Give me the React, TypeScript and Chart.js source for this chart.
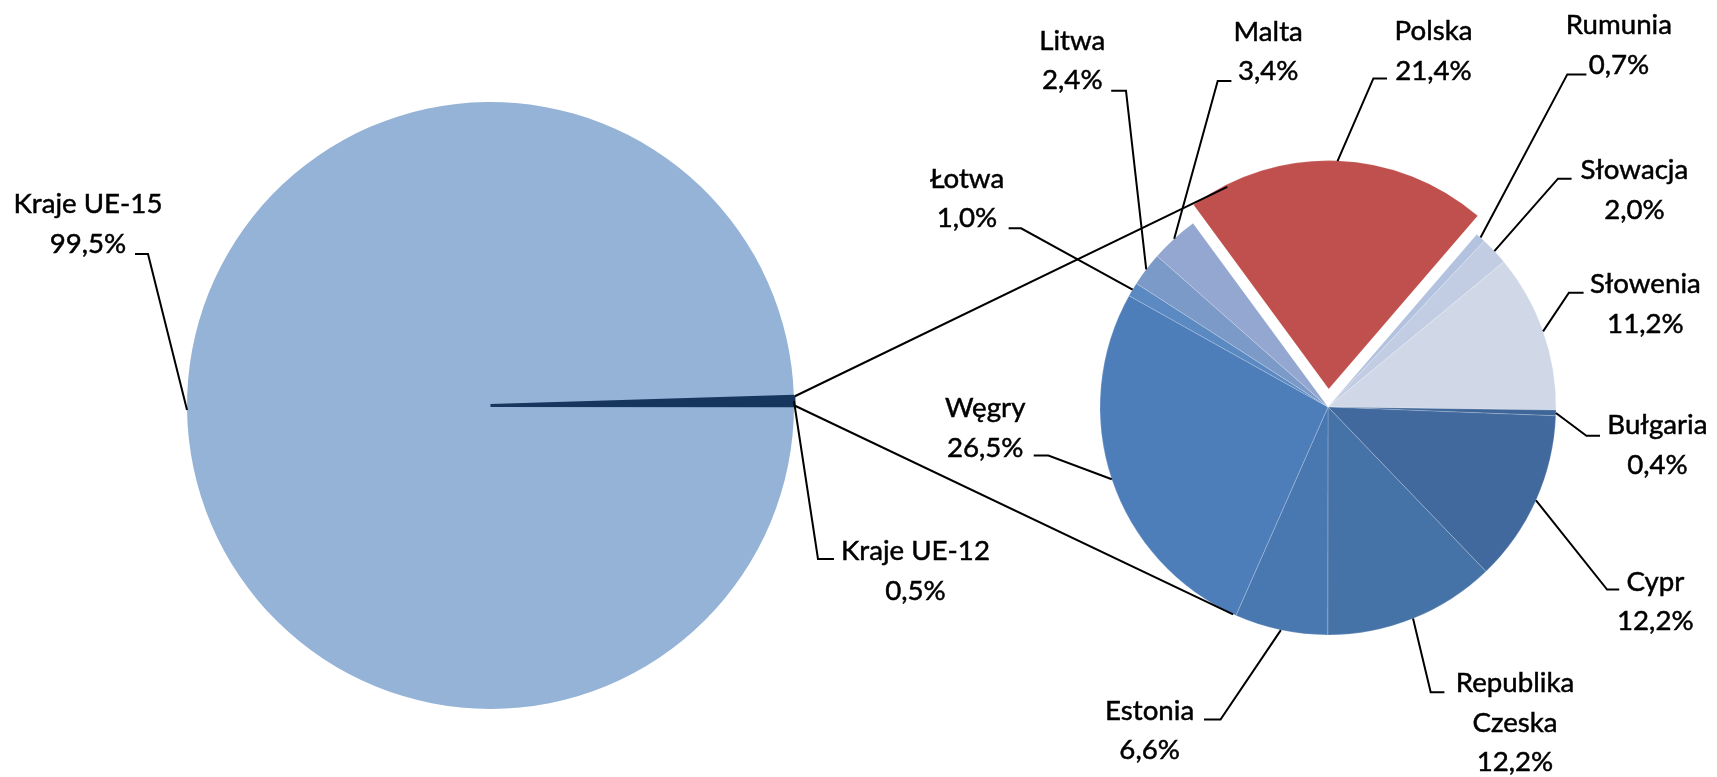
import React, { useEffect, useRef } from "react";
import { Chart, registerables } from "chart.js";

Chart.register(...registerables);

const W = 1717;
const H = 777;

// ---------- data ----------
const mainLabels = ["Kraje UE-15", "Kraje UE-12"];
const mainValues = [99.5, 0.5];
const mainColors = ["#95B3D7", "#17365D"];

const euLabels = [
  "Polska",
  "Rumunia",
  "Słowacja",
  "Słowenia",
  "Bułgaria",
  "Cypr",
  "Republika Czeska",
  "Estonia",
  "Węgry",
  "Łotwa",
  "Litwa",
  "Malta",
];
const euValues = [21.4, 0.7, 2.0, 11.2, 0.4, 12.2, 12.2, 6.6, 26.5, 1.0, 2.4, 3.4];
const euColors = [
  "#C0504D",
  "#B3C3DF",
  "#C2CDE3",
  "#D0D8E8",
  "#3F6699",
  "#41699E",
  "#4572A7",
  "#4977B0",
  "#4E7EBA",
  "#5B89C2",
  "#7C9AC8",
  "#93A7D0",
];

// ---------- layout ----------
const LEFT = { x: 490.5, y: 405.5, r: 303.5, rotation: 90.05 };
const RIGHT = { x: 1328, y: 407, r: 228, rotation: -36.3 };
const EXPLODE_PX = 18; // Polska pulled out
const LINE_H = 39.5;
const FONT_FAMILY = "Lato, 'Open Sans', sans-serif";
const CONNECTOR_ANGLE = 24.6; // deg from vertical on the secondary pie
const CONNECTOR_UPPER_EXTRA = 14;

type LabelPos = { cx: number; y: number; tick: number[]; wrap?: boolean };

const mainLabelPos: LabelPos[] = [
  { cx: 88, y: 213, tick: [135, 254, 148, 254] },
  { cx: 915.5, y: 560, tick: [834, 559, 818, 559] },
];

const euLabelPos: LabelPos[] = [
  { cx: 1433.5, y: 40, tick: [1387, 78.4, 1373.4, 78.4] }, // Polska
  { cx: 1618.9, y: 34, tick: [1586.4, 74.4, 1567.3, 74.4] }, // Rumunia
  { cx: 1634.4, y: 179, tick: [1571.6, 178.7, 1558, 178.7] }, // Słowacja
  { cx: 1645.4, y: 293, tick: [1583.6, 292.8, 1568.9, 292.8] }, // Słowenia
  { cx: 1657.4, y: 434, tick: [1600, 435.7, 1586.4, 435.7] }, // Bułgaria
  { cx: 1655.3, y: 590.6, tick: [1619.2, 589.6, 1607.1, 589.6] }, // Cypr
  { cx: 1515, y: 692.3, tick: [1444.4, 692.3, 1430.7, 692.3], wrap: true }, // Republika Czeska
  { cx: 1149.6, y: 719.6, tick: [1204, 719.6, 1220.5, 719.6] }, // Estonia
  { cx: 985.2, y: 417, tick: [1033.7, 455.6, 1048.4, 455.6] }, // Węgry
  { cx: 967, y: 187.6, tick: [1008.6, 228.3, 1021.1, 228.3] }, // Łotwa
  { cx: 1072.3, y: 49.6, tick: [1111.2, 90.8, 1126, 90.8] }, // Litwa
  { cx: 1268.2, y: 40.7, tick: [1231.4, 80.9, 1217.7, 80.9] }, // Malta
];

const fmt = (v: number) => `${v.toFixed(1).replace(".", ",")}%`;

let cachedFontSize = 0;
function fontSize(ctx: CanvasRenderingContext2D) {
  if (cachedFontSize) return cachedFontSize;
  ctx.save();
  ctx.font = `100px ${FONT_FAMILY}`;
  const w = ctx.measureText("Kraje UE-15").width;
  ctx.restore();
  cachedFontSize = (100 * 149) / w;
  return cachedFontSize;
}

function arcGeom(arc: any) {
  return arc.getProps(["x", "y", "startAngle", "endAngle", "outerRadius"], true);
}

function makeLabelPlugin(labels: string[], values: number[], pos: LabelPos[]) {
  return {
    id: "pieLabels",
    afterDraw(chart: any) {
      const ctx: CanvasRenderingContext2D = chart.ctx;
      const meta = chart.getDatasetMeta(0);
      ctx.save();
      const fs = fontSize(ctx);
      ctx.font = `${fs}px ${FONT_FAMILY}`;
      ctx.fillStyle = "#000";
      ctx.textAlign = "center";
      ctx.textBaseline = "alphabetic";
      ctx.strokeStyle = "#000";
      ctx.lineJoin = "miter";
      meta.data.forEach((arc: any, i: number) => {
        const g = arcGeom(arc);
        const mid = (g.startAngle + g.endAngle) / 2;
        const off = (arc.options.offset || 0) / 4;
        const ax = g.x + Math.cos(mid) * (g.outerRadius + off);
        const ay = g.y + Math.sin(mid) * (g.outerRadius + off);
        const p = pos[i];
        ctx.lineWidth = 2;
        ctx.beginPath();
        ctx.moveTo(p.tick[0], p.tick[1]);
        ctx.lineTo(p.tick[2], p.tick[3]);
        ctx.lineTo(ax, ay);
        ctx.stroke();
        const nameLines = p.wrap ? labels[i].split(" ") : [labels[i]];
        const lines = [...nameLines, fmt(values[i])];
        ctx.lineWidth = 0.5;
        lines.forEach((t, k) => {
          ctx.fillText(t, p.cx, p.y + k * LINE_H);
          ctx.strokeText(t, p.cx, p.y + k * LINE_H);
        });
      });
      ctx.restore();
    },
  };
}

function makeConnectorPlugin(getLeft: () => any) {
  return {
    id: "connectors",
    afterDraw(chart: any) {
      const left = getLeft();
      if (!left) return;
      const ctx: CanvasRenderingContext2D = chart.ctx;
      const la = arcGeom(left.getDatasetMeta(0).data[1]);
      const rArc = arcGeom(chart.getDatasetMeta(0).data[0]);
      const cx = rArc.x;
      const cy = rArc.y;
      const r = rArc.outerRadius;
      const a = (CONNECTOR_ANGLE * Math.PI) / 180;
      const upper = { x: cx - Math.sin(a) * (r + CONNECTOR_UPPER_EXTRA), y: cy - Math.cos(a) * (r + CONNECTOR_UPPER_EXTRA) };
      const lower = { x: cx - Math.sin(a) * r, y: cy + Math.cos(a) * r };
      const s1 = { x: la.x + Math.cos(la.startAngle) * la.outerRadius, y: la.y + Math.sin(la.startAngle) * la.outerRadius };
      const s2 = { x: la.x + Math.cos(la.endAngle) * la.outerRadius, y: la.y + Math.sin(la.endAngle) * la.outerRadius };
      ctx.save();
      ctx.strokeStyle = "#000";
      ctx.lineWidth = 2;
      ctx.beginPath();
      ctx.moveTo(s1.x + 1, s1.y);
      ctx.lineTo(upper.x, upper.y);
      ctx.moveTo(s2.x + 1, s2.y);
      ctx.lineTo(lower.x, lower.y);
      ctx.stroke();
      ctx.restore();
    },
  };
}

export default function App() {
  const leftRef = useRef<HTMLCanvasElement | null>(null);
  const rightRef = useRef<HTMLCanvasElement | null>(null);

  useEffect(() => {
    document.body.style.margin = "0";
    if (!leftRef.current || !rightRef.current) return;

    const leftChart = new Chart(leftRef.current, {
      type: "pie",
      data: {
        labels: mainLabels,
        datasets: [
          {
            data: mainValues,
            backgroundColor: mainColors,
            borderColor: mainColors,
            borderWidth: [0, 3],
          },
        ],
      },
      options: {
        responsive: false,
        animation: false,
        devicePixelRatio: 1,
        events: [],
        rotation: LEFT.rotation,
        radius: LEFT.r,
        layout: {
          padding: {
            left: LEFT.x - LEFT.r,
            right: W - (LEFT.x + LEFT.r),
            top: LEFT.y - LEFT.r,
            bottom: H - (LEFT.y + LEFT.r),
          },
        },
        plugins: { legend: { display: false }, tooltip: { enabled: false } },
      } as any,
      plugins: [makeLabelPlugin(mainLabels, mainValues, mainLabelPos)],
    });

    const rightChart = new Chart(rightRef.current, {
      type: "pie",
      data: {
        labels: euLabels,
        datasets: [
          {
            data: euValues,
            backgroundColor: euColors,
            borderColor: "rgba(255,255,255,0.25)",
            borderWidth: 0.75,
            offset: euLabels.map((l) => (l === "Polska" ? EXPLODE_PX * 4 : 0)),
          },
        ],
      },
      options: {
        responsive: false,
        animation: false,
        devicePixelRatio: 1,
        events: [],
        rotation: RIGHT.rotation,
        radius: RIGHT.r,
        layout: {
          padding: {
            left: RIGHT.x - RIGHT.r,
            right: W - (RIGHT.x + RIGHT.r),
            top: RIGHT.y - RIGHT.r,
            bottom: H - (RIGHT.y + RIGHT.r),
          },
        },
        plugins: { legend: { display: false }, tooltip: { enabled: false } },
      } as any,
      plugins: [
        makeConnectorPlugin(() => leftChart),
        makeLabelPlugin(euLabels, euValues, euLabelPos),
      ],
    });

    return () => {
      rightChart.destroy();
      leftChart.destroy();
    };
  }, []);

  return (
    <div style={{ position: "absolute", left: 0, top: 0, width: W, height: H, background: "#fff", overflow: "hidden" }}>
      <canvas ref={leftRef} width={W} height={H} style={{ position: "absolute", left: 0, top: 0, width: W, height: H }} />
      <canvas ref={rightRef} width={W} height={H} style={{ position: "absolute", left: 0, top: 0, width: W, height: H }} />
    </div>
  );
}
